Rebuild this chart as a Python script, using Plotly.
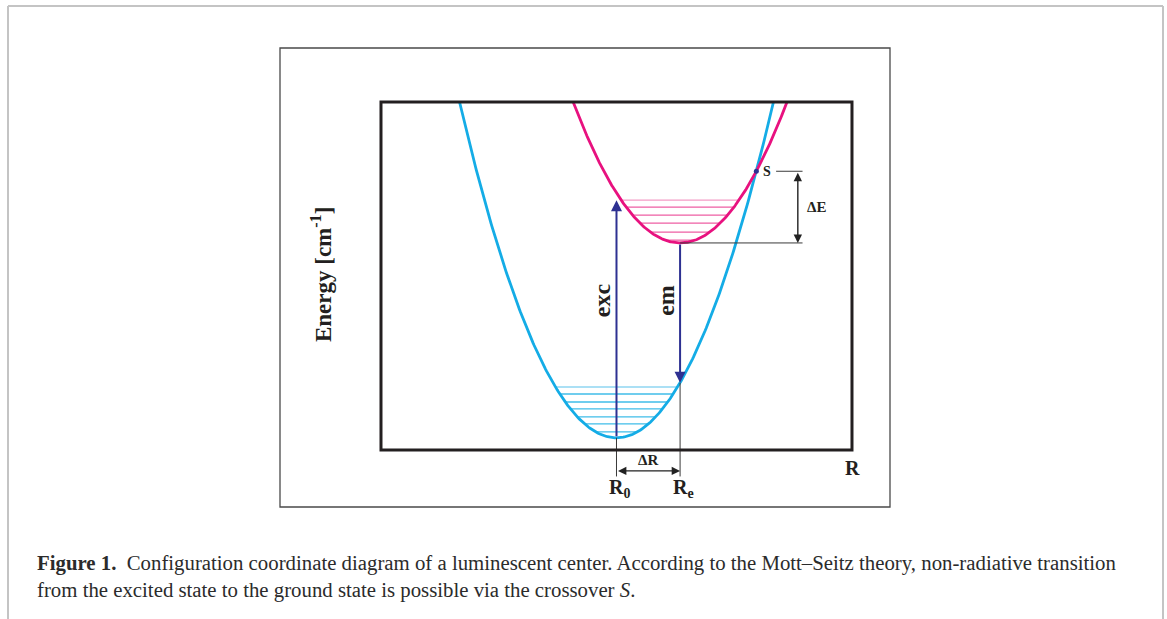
import numpy as np
import plotly.graph_objects as go

W, H = 1167, 619

# Configuration coordinate model (arbitrary units; the framed box spans 0-100 on both axes)
R_ground, E_ground, k_ground = 50.0, 3.5, 0.0869
R_excited, E_excited, k_excited = 63.5, 59.5, 0.0786
E_top = 100.0

# Vibrational levels (energies) in the ground and excited parabolas
ground_levels = [18.1, 16.1, 13.8, 11.8, 9.5, 7.5, 5.2]
excited_levels = [71.8, 69.8, 67.5, 65.2, 62.6, 60.3]

BLUE = "#14ace6"
BLUE_LEVEL = "#3fbde9"
BLUE_LEVEL_TOP = "#8fd6f2"
PINK = "#e8117f"
PINK_LEVEL = "#ee5ea3"
PINK_LEVEL_TOP = "#f49cc6"
ARROW = "#2e3192"
SERIF = "Liberation Serif"


def parabola(R, E, k, n=300):
    half = np.sqrt((E_top - E) / k)
    x = np.linspace(R - half, R + half, n)
    return x, E + k * (x - R) ** 2


def level_segments(R, E, k, levels):
    xs, ys = [], []
    for lv in levels:
        half = np.sqrt((lv - E) / k)
        xs += [R - half, R + half, None]
        ys += [lv, lv, None]
    return xs, ys


def ground_energy(x):
    return E_ground + k_ground * (x - R_ground) ** 2


# Crossover S of the two parabolas
a = k_ground - k_excited
b = -2 * k_ground * R_ground + 2 * k_excited * R_excited
c = k_ground * R_ground ** 2 + E_ground - k_excited * R_excited ** 2 - E_excited
roots = np.roots([a, b, c])
x_S = float(max(r.real for r in roots))
E_S = float(ground_energy(x_S))
E_em_end = float(ground_energy(R_excited))

fig = go.Figure()

# level lines
for R, E, k, levels, col, col_top in [
    (R_ground, E_ground, k_ground, ground_levels, BLUE_LEVEL, BLUE_LEVEL_TOP),
    (R_excited, E_excited, k_excited, excited_levels, PINK_LEVEL, PINK_LEVEL_TOP),
]:
    xs, ys = level_segments(R, E, k, levels[1:])
    fig.add_trace(go.Scatter(x=xs, y=ys, mode="lines", line=dict(color=col, width=1.3),
                             hoverinfo="skip", showlegend=False))
    xs, ys = level_segments(R, E, k, levels[:1])
    fig.add_trace(go.Scatter(x=xs, y=ys, mode="lines", line=dict(color=col_top, width=1.3),
                             hoverinfo="skip", showlegend=False))

# potential curves
gx, gy = parabola(R_ground, E_ground, k_ground)
ex, ey = parabola(R_excited, E_excited, k_excited)
fig.add_trace(go.Scatter(x=gx, y=gy, mode="lines", line=dict(color=BLUE, width=2.8),
                         hoverinfo="skip", showlegend=False))
fig.add_trace(go.Scatter(x=ex, y=ey, mode="lines", line=dict(color=PINK, width=2.8),
                         hoverinfo="skip", showlegend=False))

# helper lines (thin, dark grey)
thin = dict(color="#3a3a3a", width=1)
x_dE = 88.5
y_dR = -6.0
y_drop = -7.6
line_specs = [
    (R_ground, E_ground, R_ground, y_drop),
    (R_excited, E_em_end, R_excited, y_drop),
    (R_excited, E_excited, x_dE + 1.0, E_excited),
    (x_S + 4.2, E_S, x_dE + 1.0, E_S),
]
for x0, y0, x1, y1 in line_specs:
    fig.add_shape(type="line", xref="x", yref="y", x0=x0, y0=y0, x1=x1, y1=y1, line=thin)

# frame of the diagram
fig.add_shape(type="rect", xref="x", yref="y", x0=0, y0=0, x1=100, y1=E_top,
              line=dict(color="#231f20", width=3))

# S marker
fig.add_trace(go.Scatter(x=[x_S], y=[E_S], mode="markers",
                         marker=dict(color=ARROW, size=5), hoverinfo="skip", showlegend=False))

# transitions
arrow_common = dict(xref="x", yref="y", axref="x", ayref="y", text="", showarrow=True,
                    arrowcolor=ARROW, arrowwidth=2, arrowhead=2, arrowsize=1.1)
fig.add_annotation(x=R_ground, y=excited_levels[0], ax=R_ground, ay=E_ground, **arrow_common)
fig.add_annotation(x=R_excited, y=E_em_end, ax=R_excited, ay=E_excited, **arrow_common)

# ΔE and ΔR double arrows
dbl = dict(xref="x", yref="y", axref="x", ayref="y", text="", showarrow=True,
           arrowcolor="#222222", arrowwidth=1.4, arrowhead=2, startarrowhead=2,
           arrowsize=1.2, startarrowsize=1.2, arrowside="end+start")
fig.add_annotation(x=x_dE, y=E_excited, ax=x_dE, ay=E_S, **dbl)
fig.add_annotation(x=R_excited, y=y_dR, ax=R_ground, ay=y_dR, **dbl)

# labels
def label(x, y, text, size, **kw):
    fig.add_annotation(x=x, y=y, xref="x", yref="y", text=text, showarrow=False,
                       font=dict(family=SERIF, size=size, color="#231f20"), **kw)

label(x_S, E_S, "<b>S</b>", 14, xanchor="left", xshift=5)
label(x_dE, (E_S + E_excited) / 2, "<b>ΔE</b>", 15, xanchor="left", xshift=7)
label((R_ground + R_excited) / 2, y_dR, "<b>ΔR</b>", 15, yanchor="bottom", yshift=1)
label(R_ground, y_drop, "<b>R<sub>0</sub></b>", 20, yanchor="top", xshift=3, yshift=2)
label(R_excited, y_drop, "<b>R<sub>e</sub></b>", 20, yanchor="top", xshift=3, yshift=2)
label(100.2, -5.2, "<b>R</b>", 20)
label(-12.5, 50.3, "<b>Energy [cm<sup>-1</sup>]</b>", 23, textangle=-90)
label(R_ground - 2.9, 43.0, "<b>exc</b>", 24, textangle=-90)
label(R_excited - 2.9, 43.0, "<b>em</b>", 24, textangle=-90)

# outer figure box and page frame
fig.add_shape(type="rect", xref="paper", yref="paper", x0=280 / W, x1=890 / W,
              y0=1 - 507 / H, y1=1 - 48 / H, line=dict(color="#4a4a4a", width=1.3))
frame = dict(color="#c4c4c4", width=2)
fig.add_shape(type="line", xref="paper", yref="paper", x0=8 / W, x1=8 / W, y0=0, y1=1 - 6 / H, line=frame)
fig.add_shape(type="line", xref="paper", yref="paper", x0=1163 / W, x1=1163 / W, y0=0, y1=1 - 6 / H, line=frame)
fig.add_shape(type="line", xref="paper", yref="paper", x0=8 / W, x1=1163 / W, y0=1 - 6 / H, y1=1 - 6 / H, line=frame)

# caption
cap_font = dict(family=SERIF, size=20.8, color="#2b2b2b")
fig.add_annotation(x=35 / W, y=1 - 563 / H, xref="paper", yref="paper", xanchor="left", yanchor="middle",
                   showarrow=False, font=cap_font,
                   text="<b>Figure 1.</b>  Configuration coordinate diagram of a luminescent center. "
                        "According to the Mott–Seitz theory, non-radiative transition")
fig.add_annotation(x=35 / W, y=1 - 590 / H, xref="paper", yref="paper", xanchor="left", yanchor="middle",
                   showarrow=False, font=cap_font,
                   text="from the excited state to the ground state is possible via the crossover <i>S</i>.")

fig.update_layout(
    width=W, height=H, margin=dict(l=0, r=0, t=0, b=0),
    paper_bgcolor="white", plot_bgcolor="white", showlegend=False,
    xaxis=dict(range=[-80.89, 166.88], visible=False, domain=[0, 1]),
    yaxis=dict(range=[-48.56, 129.31], visible=False, domain=[0, 1]),
)

fig.write_html("out.html")
